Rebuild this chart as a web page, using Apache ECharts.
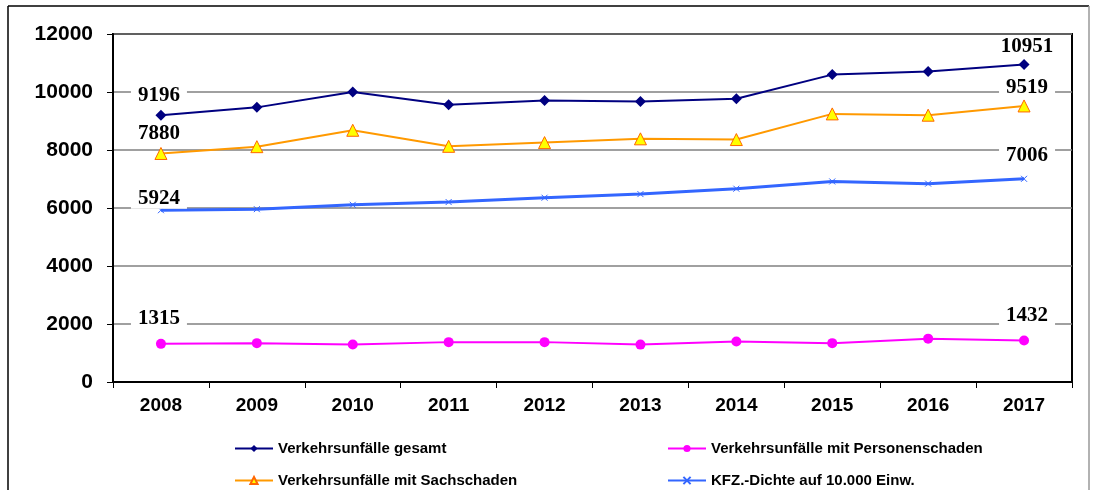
<!DOCTYPE html>
<html>
<head>
<meta charset="utf-8">
<script src="https://cdn.jsdelivr.net/npm/echarts@6/dist/echarts.min.js"></script>
<style>
  html, body { margin: 0; padding: 0; background: #fff; }
  #chart { width: 1099px; height: 490px; }
</style>
</head>
<body>
<div id="chart"></div>
<script>
// Jahre
const years = ['2008', '2009', '2010', '2011', '2012', '2013', '2014', '2015', '2016', '2017']
// Werte
const gesamt = [9196, 9470, 10000, 9560, 9710, 9675, 9770, 10600, 10710, 10951]
const personen = [1315, 1340, 1295, 1375, 1375, 1290, 1395, 1340, 1495, 1432]
const sachschaden = [7880, 8115, 8680, 8127, 8255, 8385, 8360, 9245, 9200, 9519]
const kfzDichte = [5924, 5960, 6110, 6205, 6355, 6480, 6665, 6915, 6840, 7006]
const yTicks = [0, 2000, 4000, 6000, 8000, 10000, 12000]

const names = {
  gesamt: 'Verkehrsunfälle gesamt',
  personen: 'Verkehrsunfälle mit Personenschaden',
  sach: 'Verkehrsunfälle mit Sachschaden',
  kfz: 'KFZ.-Dichte auf 10.000 Einw.'
}

// nur erster und letzter Wert bekommen ein Label
function withEndLabels (arr, dyFirst, dyLast) {
  return arr.map((v, i) => {
    if (i === 0 || i === arr.length - 1) {
      return {
        value: v,
        label: {
          show: true,
          position: 'inside',
          offset: [i === 0 ? -2 : 3, i === 0 ? dyFirst : dyLast]
        }
      }
    }
    return v
  })
}

const endLabel = {
  color: '#000',
  fontFamily: 'Liberation Serif',
  fontWeight: 'bold',
  fontSize: 21,
  backgroundColor: '#fff',
  padding: [0, 7]
}

// eine Legende pro Eintrag, damit die 2x2-Anordnung stimmt
function legendItem (name, left, top) {
  return {
    left: left,
    top: top,
    itemWidth: 38,
    itemHeight: 9,
    textStyle: { fontFamily: 'Liberation Sans', fontWeight: 'bold', fontSize: 15, color: '#000' },
    data: [name]
  }
}

const chart = echarts.init(document.getElementById('chart'))
const option = {
  animation: false,
  backgroundColor: '#fff',
  graphic: [
    { type: 'line', shape: { x1: 8, y1: 6, x2: 1089, y2: 6 }, style: { stroke: '#000', lineWidth: 1.5 } },
    { type: 'line', shape: { x1: 8, y1: 6, x2: 8, y2: 490 }, style: { stroke: '#000', lineWidth: 1.5 } },
    { type: 'line', shape: { x1: 1089, y1: 6, x2: 1089, y2: 490 }, style: { stroke: '#999', lineWidth: 1.5 } }
  ],
  grid: {
    left: 113,
    top: 34,
    right: 27,
    bottom: 108,
    show: true,
    borderColor: '#000',
    borderWidth: 2
  },
  legend: [
    legendItem(names.gesamt, 229, 436),
    legendItem(names.sach, 229, 468),
    legendItem(names.personen, 662, 436),
    legendItem(names.kfz, 662, 468)
  ],
  xAxis: {
    type: 'category',
    data: years,
    boundaryGap: true,
    axisLine: { lineStyle: { color: '#000', width: 2 } },
    axisTick: { show: true, length: 6, lineStyle: { color: '#000' } },
    axisLabel: {
      margin: 14,
      color: '#000',
      fontFamily: 'Liberation Sans',
      fontWeight: 'bold',
      fontSize: 19
    }
  },
  yAxis: {
    type: 'value',
    min: yTicks[0],
    max: yTicks[yTicks.length - 1],
    interval: 2000,
    axisLine: { show: true, lineStyle: { color: '#000', width: 2 } },
    axisTick: { show: true, length: 6, lineStyle: { color: '#000' } },
    axisLabel: {
      margin: 20,
      color: '#000',
      fontFamily: 'Liberation Sans',
      fontWeight: 'bold',
      fontSize: 21,
      formatter: (v) => String(v)
    },
    splitLine: { lineStyle: { color: '#808080', width: 1.5 } }
  },
  series: [
    {
      name: names.gesamt,
      type: 'line',
      data: withEndLabels(gesamt, -20, -18),
      symbol: 'diamond',
      symbolSize: 11,
      lineStyle: { color: '#000080', width: 2 },
      itemStyle: { color: '#000080' },
      label: endLabel,
      z: 4
    },
    {
      name: names.personen,
      type: 'line',
      data: withEndLabels(personen, -25, -25),
      symbol: 'circle',
      symbolSize: 10,
      lineStyle: { color: '#FF00FF', width: 2 },
      itemStyle: { color: '#FF00FF' },
      label: endLabel,
      z: 3
    },
    {
      name: names.sach,
      type: 'line',
      data: withEndLabels(sachschaden, -20, -18),
      symbol: 'triangle',
      symbolSize: 12,
      lineStyle: { color: '#FF9900', width: 2 },
      itemStyle: { color: '#FFFF00', borderColor: '#FF6600', borderWidth: 1 },
      label: endLabel,
      z: 3
    },
    {
      name: names.kfz,
      type: 'line',
      data: withEndLabels(kfzDichte, -12, -23),
      symbol: 'path://M0,0L10,10M10,0L0,10',
      symbolSize: 6,
      lineStyle: { color: '#3366FF', width: 3 },
      itemStyle: { color: '#3366FF', borderColor: '#3366FF', borderWidth: 1 },
      label: endLabel,
      z: 2
    }
  ]
}
chart.setOption(option)
</script>
</body>
</html>
